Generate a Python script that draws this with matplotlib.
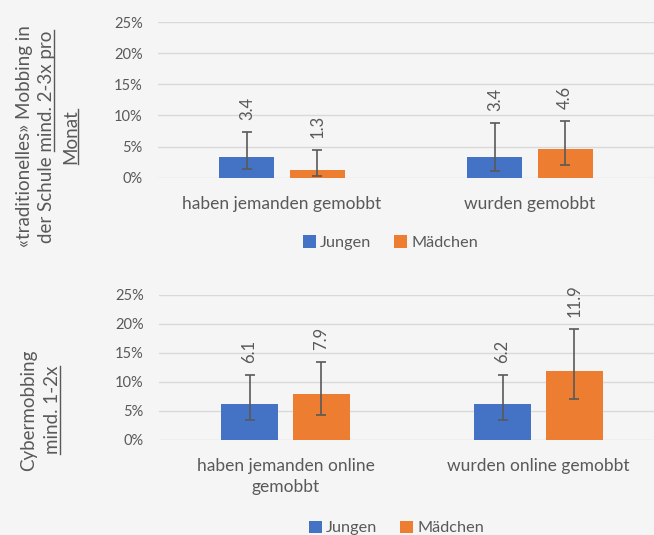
import matplotlib
matplotlib.use("Agg")
import matplotlib.pyplot as plt
from matplotlib.patches import Patch
from matplotlib.lines import Line2D
import numpy as np

# ---------------- data ----------------
series = ["Jungen", "Mädchen"]
cats_top = ["haben jemanden gemobbt", "wurden gemobbt"]
jungen_top = [3.4, 3.4]
maedchen_top = [1.3, 4.6]
jungen_top_lo = [1.4, 1.1]
jungen_top_hi = [7.35, 8.85]
maedchen_top_lo = [0.2, 2.0]
maedchen_top_hi = [4.4, 9.1]

cats_bot = ["haben jemanden online\ngemobbt", "wurden online gemobbt"]
jungen_bot = [6.1, 6.2]
maedchen_bot = [7.9, 11.9]
jungen_bot_lo = [3.35, 3.35]
jungen_bot_hi = [11.2, 11.2]
maedchen_bot_lo = [4.3, 7.0]
maedchen_bot_hi = [13.5, 19.1]

yticks = [0, 5, 10, 15, 20, 25]
ytick_labels = ["0%", "5%", "10%", "15%", "20%", "25%"]

# ---------------- style ----------------
FONT = "Lato"
TXT = "#595959"
BLUE = "#4472C4"
ORANGE = "#ED7D31"
GRID = "#D9D9D9"
BG = "#F5F5F5"
ERR = "#595959"

plt.rcParams["font.family"] = [FONT, "DejaVu Sans"]

W, H = 654, 535
fig = plt.figure(figsize=(W / 100, H / 100), dpi=100, facecolor=BG)


def px_ax(left, right, top0, bot0):
    # left/right x pixels, top (25%) and bottom (0%) y pixels from top
    return [left / W, 1 - bot0 / H, (right - left) / W, (bot0 - top0) / H]


ax1 = fig.add_axes(px_ax(158, 654, 22, 177.7))
ax2 = fig.add_axes(px_ax(159, 665, 295, 439.7))

bw = 0.223
off = 0.142


def draw(ax, cats, jv, mv, jlo, jhi, mlo, mhi, tick_pad):
    ax.set_facecolor(BG)
    x = np.arange(len(cats))
    for xs, vals, lo, hi, col in [
        (x - off, jv, jlo, jhi, BLUE),
        (x + off, mv, mlo, mhi, ORANGE),
    ]:
        vals = np.array(vals)
        lo = np.array(lo)
        hi = np.array(hi)
        ax.bar(xs, vals, width=bw, color=col, zorder=2)
        mid = (lo + hi) / 2
        ax.errorbar(xs, mid, yerr=[mid - lo, hi - mid], fmt="none",
                    ecolor=ERR, elinewidth=1.2, capsize=3.6, capthick=1.2,
                    zorder=3)
        for xi, v, h in zip(xs, vals, hi):
            ax.annotate(f"{v:.1f}", xy=(xi, h), xytext=(0, 8.5),
                        textcoords="offset points", rotation=90,
                        ha="center", va="bottom", fontsize=12,
                        color=TXT, zorder=4)
    ax.set_xlim(-0.5, len(cats) - 0.5)
    ax.set_ylim(0, 25)
    ax.set_yticks(yticks)
    ax.set_yticklabels(ytick_labels)
    ax.set_xticks(x)
    ax.set_xticklabels(cats, linespacing=1.4)
    ax.tick_params(axis="y", length=0, pad=11, labelsize=10.5, labelcolor=TXT)
    ax.tick_params(axis="x", length=0, pad=tick_pad, labelsize=12.5,
                   labelcolor=TXT)
    ax.grid(axis="y", color=GRID, linewidth=1.0, zorder=0)
    ax.set_axisbelow(True)
    for s in ax.spines.values():
        s.set_visible(False)
    ax.set_clip_on(False)


draw(ax1, cats_top, jungen_top, maedchen_top, jungen_top_lo, jungen_top_hi,
     maedchen_top_lo, maedchen_top_hi, tick_pad=13)
draw(ax2, cats_bot, jungen_bot, maedchen_bot, jungen_bot_lo, jungen_bot_hi,
     maedchen_bot_lo, maedchen_bot_hi, tick_pad=13)

handles = [Patch(facecolor=BLUE, edgecolor="none", label=series[0]),
           Patch(facecolor=ORANGE, edgecolor="none", label=series[1])]
for cx, cy in [(390.5, 242.5), (396.5, 528)]:
    fig.legend(handles=handles, loc="center", bbox_to_anchor=(cx / W, 1 - cy / H),
               ncol=2, frameon=False, fontsize=11.7, labelcolor=TXT,
               handlelength=0.8, handleheight=0.8, handletextpad=0.25,
               columnspacing=1.4, borderpad=0, borderaxespad=0)

# ---------------- y labels with underlines ----------------
renderer = fig.canvas.get_renderer()
YL_SIZE = 13.5


def vline_text(base_x, cy, text, underline_part=None):
    """Rotated line; base_x = baseline x (px), cy = center y (px from top)."""
    t = fig.text(base_x / W, 1 - cy / H, text, rotation=90,
                 rotation_mode="anchor", ha="center", va="baseline",
                 fontsize=YL_SIZE, color=TXT)
    if underline_part:
        prop = t.get_fontproperties()
        wf, _, _ = renderer.get_text_width_height_descent(text, prop, ismath=False)
        ws, _, _ = renderer.get_text_width_height_descent(underline_part, prop, ismath=False)
        end = cy - wf / 2  # top end in px-from-top coords
        start = end + ws
        ux = base_x + 1.8
        fig.add_artist(Line2D([ux / W, ux / W], [1 - start / H, 1 - end / H],
                              color=TXT, linewidth=1.0,
                              transform=fig.transFigure))
    return t


vline_text(30.5, 136.5, "«traditionelles» Mobbing in")
vline_text(52, 136.5, "der Schule mind. 2-3x pro", "mind. 2-3x pro")
vline_text(76.5, 136.5, "Monat", "Monat")

vline_text(34.5, 410, "Cybermobbing")
vline_text(58, 410, "mind. 1-2x", "mind. 1-2x")

fig.savefig("out.png", dpi=100, facecolor=BG)
